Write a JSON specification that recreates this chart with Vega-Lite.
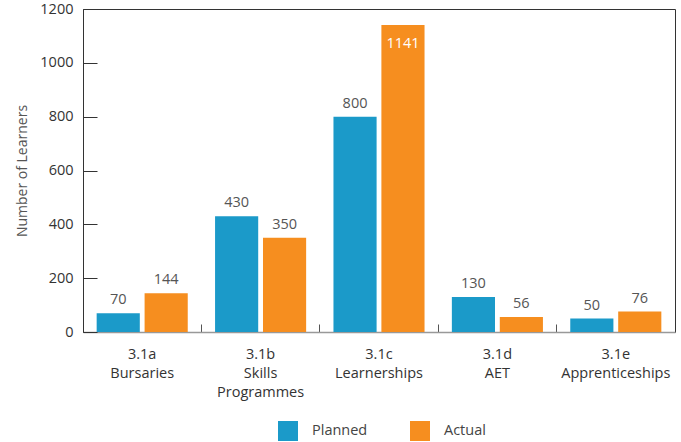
{
  "$schema": "https://vega.github.io/schema/vega-lite/v6.json",
  "width": 592,
  "height": 323,
  "autosize": "none",
  "padding": {"left": 83, "top": 9, "right": 6, "bottom": 110},
  "config": {
    "font": "Open Sans",
    "view": {"stroke": "#333", "strokeWidth": 1},
    "axis": {"labelFont": "Open Sans", "titleFont": "Open Sans"}
  },
  "data": {
    "values": [
      {"group": "3.1a|Bursaries", "series": "Planned", "value": 70},
      {"group": "3.1a|Bursaries", "series": "Actual", "value": 144},
      {"group": "3.1b|Skills|Programmes", "series": "Planned", "value": 430},
      {"group": "3.1b|Skills|Programmes", "series": "Actual", "value": 350},
      {"group": "3.1c|Learnerships", "series": "Planned", "value": 800},
      {"group": "3.1c|Learnerships", "series": "Actual", "value": 1141},
      {"group": "3.1d|AET", "series": "Planned", "value": 130},
      {"group": "3.1d|AET", "series": "Actual", "value": 56},
      {"group": "3.1e|Apprenticeships", "series": "Planned", "value": 50},
      {"group": "3.1e|Apprenticeships", "series": "Actual", "value": 76}
    ]
  },
  "encoding": {
    "x": {
      "field": "group",
      "type": "nominal",
      "sort": null,
      "scale": {"paddingInner": 0, "paddingOuter": 0},
      "axis": {
        "title": null,
        "labelAngle": 0,
        "labelExpr": "split(datum.label, '|')",
        "labelLineHeight": 19,
        "labelFontSize": 14.5,
        "labelColor": "#333",
        "labelPadding": 23,
        "bandPosition": 0,
        "tickSize": -8,
        "tickColor": "#555",
        "domainColor": "#999",
        "domainWidth": 1.5
      }
    },
    "xOffset": {
      "field": "series",
      "type": "nominal",
      "scale": {"domain": ["Planned", "Actual"], "paddingInner": 0.1, "paddingOuter": 0.285}
    },
    "y": {
      "field": "value",
      "type": "quantitative",
      "scale": {"domain": [0, 1200], "nice": false},
      "axis": {
        "title": "Number of Learners",
        "titleFontSize": 14,
        "titleFontWeight": "normal",
        "titleColor": "#555",
        "titlePadding": 10,
        "values": [0, 200, 400, 600, 800, 1000, 1200],
        "format": "d",
        "grid": false,
        "tickSize": -14,
        "tickColor": "#333",
        "domainColor": "#333",
        "labelFontSize": 14.5,
        "labelColor": "#333",
        "labelPadding": 24
      }
    }
  },
  "layer": [
    {
      "mark": {"type": "bar"},
      "encoding": {
        "color": {
          "field": "series",
          "type": "nominal",
          "scale": {"domain": ["Planned", "Actual"], "range": ["#1b9ac9", "#f68e1f"]},
          "legend": {
            "title": null,
            "orient": "none",
            "legendX": 195,
            "legendY": 412,
            "direction": "horizontal",
            "symbolType": "square",
            "symbolSize": 400,
            "symbolStrokeWidth": 0,
            "labelFontSize": 14.5,
            "labelColor": "#444",
            "labelOffset": 14,
            "columnPadding": 42
          }
        }
      }
    },
    {
      "transform": [{"filter": "datum.value < 1000"}],
      "mark": {"type": "text", "baseline": "bottom", "dy": -6, "fontSize": 14.5, "color": "#555"},
      "encoding": {"text": {"field": "value", "type": "quantitative"}}
    },
    {
      "transform": [{"filter": "datum.value >= 1000"}],
      "mark": {"type": "text", "baseline": "top", "dy": 12, "fontSize": 14.5, "color": "white"},
      "encoding": {"text": {"field": "value", "type": "quantitative", "format": "d"}}
    }
  ]
}
